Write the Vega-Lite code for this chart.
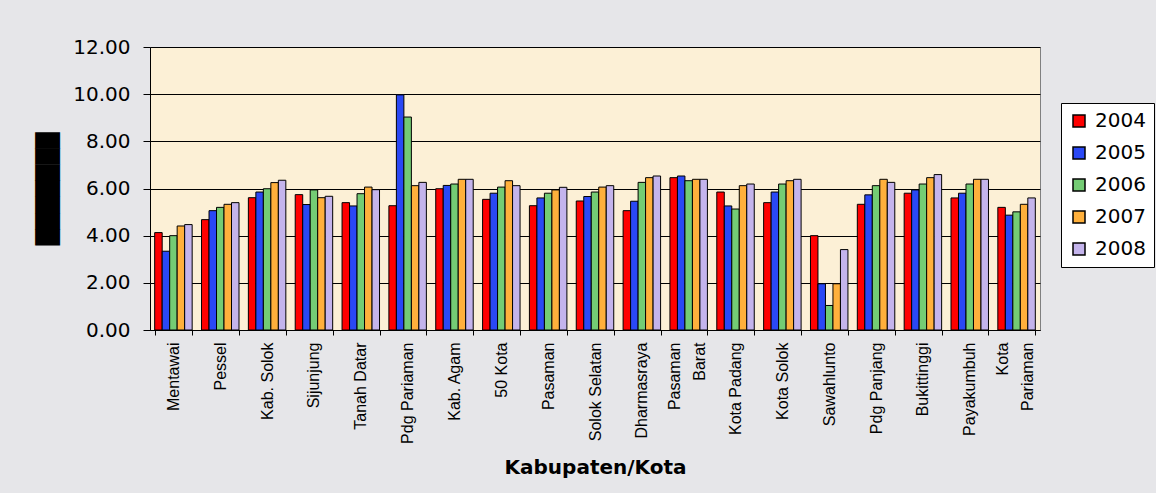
{
"$schema": "https://vega.github.io/schema/vega-lite/v6.json",
"width": 890, "height": 283,
"autosize": "none",
"padding": {"left": 150, "top": 47, "right": 116, "bottom": 163},
"background": "#e6e6e9",
"data": {"values": [
{"k":"Mentawai","year":"2004","v":4.13},{"k":"Mentawai","year":"2005","v":3.34},{"k":"Mentawai","year":"2006","v":4.0},{"k":"Mentawai","year":"2007","v":4.41},{"k":"Mentawai","year":"2008","v":4.47},
{"k":"Pessel","year":"2004","v":4.68},{"k":"Pessel","year":"2005","v":5.06},{"k":"Pessel","year":"2006","v":5.2},{"k":"Pessel","year":"2007","v":5.33},{"k":"Pessel","year":"2008","v":5.4},
{"k":"Kab. Solok","year":"2004","v":5.61},{"k":"Kab. Solok","year":"2005","v":5.85},{"k":"Kab. Solok","year":"2006","v":5.99},{"k":"Kab. Solok","year":"2007","v":6.25},{"k":"Kab. Solok","year":"2008","v":6.35},
{"k":"Sijunjung","year":"2004","v":5.74},{"k":"Sijunjung","year":"2005","v":5.32},{"k":"Sijunjung","year":"2006","v":5.94},{"k":"Sijunjung","year":"2007","v":5.61},{"k":"Sijunjung","year":"2008","v":5.67},
{"k":"Tanah Datar","year":"2004","v":5.4},{"k":"Tanah Datar","year":"2005","v":5.26},{"k":"Tanah Datar","year":"2006","v":5.78},{"k":"Tanah Datar","year":"2007","v":6.06},{"k":"Tanah Datar","year":"2008","v":5.95},
{"k":"Pdg Pariaman","year":"2004","v":5.27},{"k":"Pdg Pariaman","year":"2005","v":9.97},{"k":"Pdg Pariaman","year":"2006","v":9.03},{"k":"Pdg Pariaman","year":"2007","v":6.12},{"k":"Pdg Pariaman","year":"2008","v":6.26},
{"k":"Kab. Agam","year":"2004","v":5.99},{"k":"Kab. Agam","year":"2005","v":6.13},{"k":"Kab. Agam","year":"2006","v":6.19},{"k":"Kab. Agam","year":"2007","v":6.39},{"k":"Kab. Agam","year":"2008","v":6.39},
{"k":"50 Kota","year":"2004","v":5.54},{"k":"50 Kota","year":"2005","v":5.8},{"k":"50 Kota","year":"2006","v":6.06},{"k":"50 Kota","year":"2007","v":6.33},{"k":"50 Kota","year":"2008","v":6.12},
{"k":"Pasaman","year":"2004","v":5.27},{"k":"Pasaman","year":"2005","v":5.6},{"k":"Pasaman","year":"2006","v":5.8},{"k":"Pasaman","year":"2007","v":5.94},{"k":"Pasaman","year":"2008","v":6.05},
{"k":"Solok Selatan","year":"2004","v":5.47},{"k":"Solok Selatan","year":"2005","v":5.66},{"k":"Solok Selatan","year":"2006","v":5.85},{"k":"Solok Selatan","year":"2007","v":6.06},{"k":"Solok Selatan","year":"2008","v":6.12},
{"k":"Dharmasraya","year":"2004","v":5.06},{"k":"Dharmasraya","year":"2005","v":5.46},{"k":"Dharmasraya","year":"2006","v":6.26},{"k":"Dharmasraya","year":"2007","v":6.46},{"k":"Dharmasraya","year":"2008","v":6.53},
{"k":"Pasaman Barat","year":"2004","v":6.46},{"k":"Pasaman Barat","year":"2005","v":6.53},{"k":"Pasaman Barat","year":"2006","v":6.33},{"k":"Pasaman Barat","year":"2007","v":6.39},{"k":"Pasaman Barat","year":"2008","v":6.39},
{"k":"Kota Padang","year":"2004","v":5.85},{"k":"Kota Padang","year":"2005","v":5.26},{"k":"Kota Padang","year":"2006","v":5.13},{"k":"Kota Padang","year":"2007","v":6.12},{"k":"Kota Padang","year":"2008","v":6.19},
{"k":"Kota Solok","year":"2004","v":5.4},{"k":"Kota Solok","year":"2005","v":5.85},{"k":"Kota Solok","year":"2006","v":6.19},{"k":"Kota Solok","year":"2007","v":6.33},{"k":"Kota Solok","year":"2008","v":6.39},
{"k":"Sawahlunto","year":"2004","v":4.0},{"k":"Sawahlunto","year":"2005","v":1.96},{"k":"Sawahlunto","year":"2006","v":1.04},{"k":"Sawahlunto","year":"2007","v":1.96},{"k":"Sawahlunto","year":"2008","v":3.41},
{"k":"Pdg Panjang","year":"2004","v":5.33},{"k":"Pdg Panjang","year":"2005","v":5.73},{"k":"Pdg Panjang","year":"2006","v":6.12},{"k":"Pdg Panjang","year":"2007","v":6.39},{"k":"Pdg Panjang","year":"2008","v":6.26},
{"k":"Bukittinggi","year":"2004","v":5.8},{"k":"Bukittinggi","year":"2005","v":5.94},{"k":"Bukittinggi","year":"2006","v":6.19},{"k":"Bukittinggi","year":"2007","v":6.46},{"k":"Bukittinggi","year":"2008","v":6.59},
{"k":"Payakumbuh","year":"2004","v":5.6},{"k":"Payakumbuh","year":"2005","v":5.8},{"k":"Payakumbuh","year":"2006","v":6.19},{"k":"Payakumbuh","year":"2007","v":6.39},{"k":"Payakumbuh","year":"2008","v":6.39},
{"k":"Kota Pariaman","year":"2004","v":5.2},{"k":"Kota Pariaman","year":"2005","v":4.87},{"k":"Kota Pariaman","year":"2006","v":5.01},{"k":"Kota Pariaman","year":"2007","v":5.33},{"k":"Kota Pariaman","year":"2008","v":5.6}
]},
"mark": {"type": "bar", "stroke": "#000", "strokeWidth": 1},
"encoding": {
  "x": {"field": "k", "type": "nominal", "sort": null,
    "scale": {"paddingInner": 0.2, "paddingOuter": 0.1},
    "axis": {"title": "Kabupaten/Kota", "titleFont": "DejaVu Sans", "titleFontWeight": "bold", "titleFontSize": 20, "titleColor": "#000", "titleY": 137, "titleBaseline": "middle",
      "labelAngle": -90, "labelFont": "Arial", "labelFontSize": 16, "labelColor": "#000", "labelPadding": 7, "labelOverlap": false, "labelLineHeight": 25,
      "labelOffset": {"condition": {"test": "datum.value == 'Pasaman Barat' || datum.value == 'Kota Pariaman'", "value": -14}, "value": 0},
      "labelExpr": "datum.label == 'Pasaman Barat' ? ['Pasaman','Barat'] : datum.label == 'Kota Pariaman' ? ['Kota','Pariaman'] : datum.label",
      "domainColor": "#000", "tickColor": "#000", "tickSize": 5, "tickBand": "extent", "grid": false}},
  "xOffset": {"field": "year", "type": "nominal", "scale": {"paddingInner": 0}},
  "y": {"field": "v", "type": "quantitative", "scale": {"domain": [0, 12], "nice": false},
    "axis": {"title": "███████", "titleFont": "DejaVu Sans", "titleFontSize": 21, "titleColor": "#000", "titlePadding": 14,
      "values": [0, 2, 4, 6, 8, 10, 12], "format": ".2f", "labelFont": "DejaVu Sans", "labelFontSize": 20, "labelColor": "#000", "labelPadding": 13,
      "tickSize": 7, "tickColor": "#000", "domainColor": "#000", "gridColor": "#000", "gridOpacity": 1, "gridWidth": 1}},
  "color": {"field": "year", "type": "nominal",
    "scale": {"range": ["#FF0000", "#2A48F5", "#74CC74", "#FFB03C", "#C4B4EC"]},
    "legend": {"title": null, "orient": "none", "legendX": 911, "legendY": 56, "direction": "vertical",
      "labelFont": "DejaVu Sans", "labelFontSize": 20, "labelColor": "#000", "symbolType": "square", "symbolSize": 144,
      "symbolStrokeColor": "#000", "symbolStrokeWidth": 1.5, "symbolOpacity": 1, "strokeColor": "#000", "fillColor": "#fff",
      "padding": 8, "rowPadding": 12, "labelOffset": 6}}
},
"config": {"view": {"fill": "#FCF0D6", "stroke": "#808080"}}
}
